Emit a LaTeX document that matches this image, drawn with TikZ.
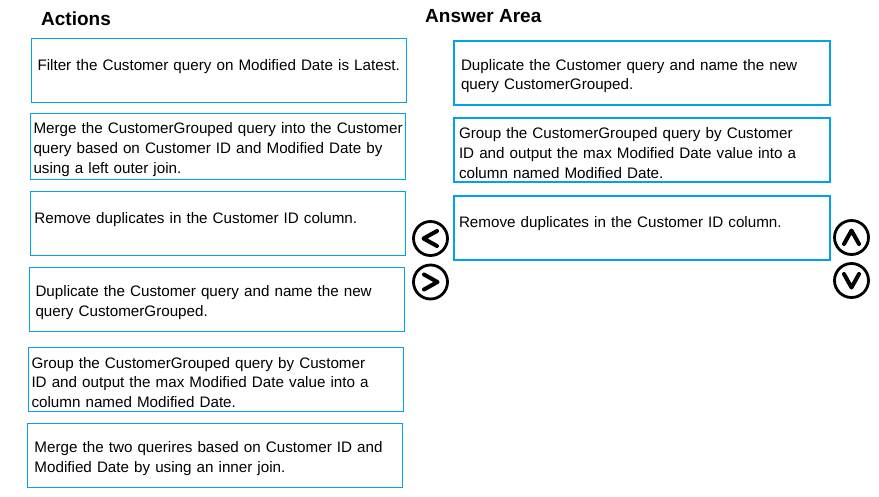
\documentclass[tikz,border=0pt]{standalone}
\usepackage{fontspec}
\setmainfont{Liberation Sans}

\definecolor{boxblue}{RGB}{0,162,232}
\newcommand{\boxfont}{\fontsize{15.2pt}{19.8pt}\selectfont\hyphenpenalty10000\relax}

\begin{document}
\begin{tikzpicture}[x=1pt,y=-1pt]
\tikzstyle{title} = [font=\fontsize{19pt}{23pt}\selectfont\bfseries,
anchor=base west, inner sep=0pt]

\tikzstyle{action} = [rectangle, draw=boxblue, line width=1pt,
minimum width=375pt, minimum height=64pt, text width=369pt, inner xsep=3pt,
text height=17pt, align=left, font=\boxfont]
\tikzstyle{answer} = [action, line width=2pt, minimum width=376pt, text width=370pt]
\tikzstyle{oneline} = [text depth=17pt]
\tikzstyle{button} = [circle, draw, line width=2.8pt, minimum size=34pt, inner sep=0pt]
\tikzstyle{chevron} = [draw, line width=4pt, line cap=round, line join=round]

\useasboundingbox (0,0) rectangle (879,496);

% headings
\node [title] (actions) at (41,25) {Actions};
\node [title] (area) at (425,22) {Answer Area};

% left column
\node [action, oneline] (filter) at (219,70.5)
{\hspace*{3pt}Filter the Customer query on Modified Date is Latest.};
\node [action] (mergeleft) at (218,146.5)
{\mbox{Merge the CustomerGrouped query into the Customer}\\
query based on Customer ID and Modified Date by\\
using a left outer join.};
\node [action, oneline] (removedup) at (218,223.5)
{\hspace*{1pt}Remove duplicates in the Customer ID column.};
\node [action] (duplicate) at (217,299.5)
{\hspace*{3pt}Duplicate the Customer query and name the new\\
\hspace*{3pt}query CustomerGrouped.};
\node [action] (group) at (216,379.5)
{Group the CustomerGrouped query by Customer\\
ID and output the max Modified Date value into a\\
column named Modified Date.};
\node [action] (mergeinner) at (215,455.5)
{\hspace*{4pt}Merge the two querires based on Customer ID and\\
\hspace*{4pt}Modified Date by using an inner join.};

% answer column
\node [answer] (ansdup) at (642,73)
{\hspace*{4pt}Duplicate the Customer query and name the new\\
\hspace*{4pt}query CustomerGrouped.};
\node [answer] (ansgroup) at (642,150)
{\hspace*{2pt}Group the CustomerGrouped query by Customer\\
\hspace*{2pt}ID and output the max Modified Date value into a\\
\hspace*{2pt}column named Modified Date.};
\node [answer, oneline] (ansremove) at (642,227.5)
{\hspace*{2pt}Remove duplicates in the Customer ID column.};

% move buttons
\node [button] (back) at (430.5,238.5) {};
\node [button] (fwd) at (430.5,282) {};
\node [button] (up) at (851.5,237.5) {};
\node [button] (down) at (851.5,280.5) {};

\draw [chevron] ([shift={(6.5,-7.5)}]back.center) -- ([shift={(-7,0)}]back.center)
  -- ([shift={(6.5,7.5)}]back.center);
\draw [chevron] ([shift={(-6.5,-7.5)}]fwd.center) -- ([shift={(7,0)}]fwd.center)
  -- ([shift={(-6.5,7.5)}]fwd.center);
\draw [chevron] ([shift={(-7.5,6.5)}]up.center) -- ([shift={(0,-7)}]up.center)
  -- ([shift={(7.5,6.5)}]up.center);
\draw [chevron] ([shift={(-7.5,-6.5)}]down.center) -- ([shift={(0,7)}]down.center)
  -- ([shift={(7.5,-6.5)}]down.center);
\end{tikzpicture}
\end{document}
